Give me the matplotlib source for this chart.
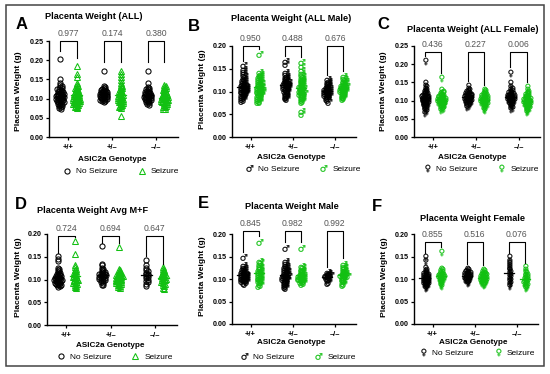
import numpy as np
import matplotlib
matplotlib.use("Agg")
import matplotlib.pyplot as plt
from matplotlib.lines import Line2D
from matplotlib.patches import Rectangle
from matplotlib.textpath import TextPath
from matplotlib.font_manager import FontProperties
from matplotlib.path import Path

plt.rcParams['font.family'] = ['Liberation Sans', 'DejaVu Sans']

# ---------------- data ----------------
genotypes = ['+/+', '+/–', '–/–']
legend_labels = ['No Seizure', 'Seizure']

# Panel A: Placenta Weight (ALL)
A_ns_pp = [0.203, 0.150, 0.141, 0.136, 0.133, 0.130, 0.128, 0.126, 0.125, 0.123, 0.121, 0.120, 0.118, 0.117, 0.116, 0.114, 0.113, 0.112, 0.111, 0.110, 0.109, 0.108, 0.107, 0.106, 0.106, 0.105, 0.104, 0.103, 0.102, 0.101, 0.100, 0.099, 0.098, 0.097, 0.096, 0.095, 0.094, 0.093, 0.091, 0.090, 0.089, 0.087, 0.086, 0.084, 0.082, 0.080, 0.078, 0.075, 0.072]
A_sz_pp = [0.186, 0.165, 0.156, 0.141, 0.135, 0.132, 0.130, 0.128, 0.126, 0.124, 0.122, 0.120, 0.118, 0.116, 0.115, 0.113, 0.112, 0.110, 0.109, 0.108, 0.106, 0.105, 0.104, 0.103, 0.102, 0.101, 0.100, 0.099, 0.098, 0.097, 0.096, 0.095, 0.094, 0.093, 0.092, 0.090, 0.089, 0.088, 0.086, 0.085, 0.083, 0.081, 0.079, 0.077, 0.075]
A_ns_pm = [0.172, 0.133, 0.130, 0.128, 0.126, 0.125, 0.123, 0.122, 0.121, 0.120, 0.119, 0.118, 0.117, 0.116, 0.115, 0.114, 0.113, 0.112, 0.111, 0.110, 0.109, 0.108, 0.107, 0.106, 0.105, 0.104, 0.103, 0.102, 0.101, 0.100, 0.099, 0.098, 0.097, 0.096, 0.094, 0.093, 0.091]
A_sz_pm = [0.172, 0.163, 0.155, 0.148, 0.141, 0.135, 0.132, 0.129, 0.127, 0.125, 0.123, 0.121, 0.119, 0.117, 0.115, 0.113, 0.111, 0.110, 0.108, 0.107, 0.105, 0.104, 0.102, 0.101, 0.100, 0.099, 0.097, 0.096, 0.094, 0.093, 0.091, 0.090, 0.088, 0.086, 0.084, 0.082, 0.080, 0.078, 0.076, 0.055]
A_ns_mm = [0.171, 0.141, 0.131, 0.128, 0.126, 0.124, 0.122, 0.120, 0.118, 0.117, 0.116, 0.114, 0.113, 0.112, 0.111, 0.110, 0.109, 0.108, 0.107, 0.106, 0.105, 0.104, 0.103, 0.102, 0.101, 0.100, 0.099, 0.098, 0.097, 0.096, 0.095, 0.093, 0.092, 0.090, 0.088, 0.086, 0.083]
A_sz_mm = [0.136, 0.133, 0.130, 0.128, 0.126, 0.124, 0.122, 0.120, 0.118, 0.116, 0.114, 0.112, 0.111, 0.109, 0.108, 0.106, 0.105, 0.104, 0.102, 0.101, 0.100, 0.099, 0.098, 0.097, 0.096, 0.095, 0.094, 0.093, 0.092, 0.091, 0.090, 0.088, 0.087, 0.085, 0.083, 0.081, 0.079, 0.077, 0.074, 0.072]
A_p = ['0.977', '0.174', '0.380']

# Panel B: Placenta Weight (ALL Male)
B_ns_pp = [0.158, 0.150, 0.145, 0.140, 0.136, 0.133, 0.130, 0.127, 0.125, 0.123, 0.121, 0.119, 0.117, 0.115, 0.114, 0.112, 0.111, 0.110, 0.109, 0.108, 0.107, 0.106, 0.105, 0.104, 0.103, 0.102, 0.101, 0.100, 0.099, 0.098, 0.097, 0.095, 0.094, 0.092, 0.090, 0.088, 0.086, 0.084, 0.082, 0.080]
B_sz_pp = [0.183, 0.142, 0.139, 0.136, 0.133, 0.131, 0.129, 0.127, 0.125, 0.123, 0.121, 0.119, 0.118, 0.116, 0.114, 0.113, 0.111, 0.110, 0.109, 0.107, 0.106, 0.105, 0.104, 0.103, 0.102, 0.101, 0.100, 0.099, 0.098, 0.096, 0.095, 0.093, 0.092, 0.090, 0.088, 0.086, 0.084, 0.082, 0.080, 0.078, 0.076]
B_ns_pm = [0.168, 0.160, 0.142, 0.138, 0.135, 0.132, 0.130, 0.128, 0.126, 0.124, 0.122, 0.121, 0.120, 0.118, 0.117, 0.116, 0.115, 0.114, 0.113, 0.112, 0.111, 0.110, 0.109, 0.108, 0.107, 0.105, 0.104, 0.102, 0.101, 0.099, 0.097, 0.095, 0.093, 0.091, 0.089, 0.087, 0.085, 0.083]
B_sz_pm = [0.165, 0.157, 0.148, 0.140, 0.136, 0.133, 0.130, 0.128, 0.126, 0.124, 0.122, 0.120, 0.118, 0.116, 0.114, 0.113, 0.111, 0.110, 0.108, 0.107, 0.105, 0.104, 0.102, 0.101, 0.099, 0.098, 0.097, 0.095, 0.094, 0.092, 0.090, 0.088, 0.086, 0.084, 0.082, 0.080, 0.078, 0.058, 0.050]
B_ns_mm = [0.127, 0.124, 0.121, 0.119, 0.117, 0.115, 0.113, 0.111, 0.110, 0.108, 0.107, 0.106, 0.105, 0.104, 0.103, 0.102, 0.101, 0.100, 0.099, 0.098, 0.097, 0.096, 0.095, 0.094, 0.093, 0.091, 0.090, 0.088, 0.086, 0.084, 0.081, 0.078]
B_sz_mm = [0.135, 0.130, 0.127, 0.124, 0.122, 0.120, 0.118, 0.116, 0.115, 0.113, 0.112, 0.111, 0.110, 0.109, 0.108, 0.107, 0.106, 0.105, 0.104, 0.103, 0.102, 0.101, 0.100, 0.099, 0.097, 0.095, 0.093, 0.091, 0.089, 0.087, 0.085, 0.083]
B_p = ['0.950', '0.488', '0.676']

# Panel C: Placenta Weight (ALL Female)
C_ns_pp = [0.209, 0.147, 0.141, 0.137, 0.133, 0.130, 0.127, 0.125, 0.123, 0.121, 0.119, 0.117, 0.115, 0.114, 0.112, 0.111, 0.110, 0.109, 0.108, 0.107, 0.106, 0.105, 0.104, 0.103, 0.102, 0.101, 0.100, 0.099, 0.098, 0.097, 0.096, 0.095, 0.094, 0.092, 0.091, 0.089, 0.087, 0.085, 0.083, 0.081, 0.078, 0.075, 0.071, 0.067]
C_sz_pp = [0.161, 0.128, 0.125, 0.122, 0.120, 0.118, 0.116, 0.114, 0.112, 0.111, 0.110, 0.108, 0.107, 0.106, 0.105, 0.104, 0.103, 0.102, 0.101, 0.100, 0.099, 0.098, 0.097, 0.096, 0.095, 0.094, 0.093, 0.092, 0.090, 0.089, 0.087, 0.085, 0.083, 0.081, 0.079, 0.076, 0.073]
C_ns_pm = [0.140, 0.131, 0.128, 0.126, 0.124, 0.122, 0.120, 0.119, 0.117, 0.116, 0.115, 0.114, 0.113, 0.112, 0.111, 0.110, 0.109, 0.108, 0.107, 0.106, 0.105, 0.104, 0.103, 0.102, 0.101, 0.100, 0.098, 0.097, 0.095, 0.093, 0.091, 0.089, 0.086, 0.083]
C_sz_pm = [0.129, 0.126, 0.123, 0.121, 0.119, 0.117, 0.115, 0.113, 0.112, 0.110, 0.109, 0.108, 0.107, 0.106, 0.105, 0.104, 0.103, 0.102, 0.101, 0.100, 0.099, 0.098, 0.097, 0.096, 0.094, 0.093, 0.091, 0.090, 0.088, 0.086, 0.084, 0.081, 0.078, 0.075]
C_ns_mm = [0.177, 0.147, 0.136, 0.132, 0.129, 0.126, 0.124, 0.122, 0.120, 0.118, 0.117, 0.115, 0.114, 0.113, 0.112, 0.111, 0.110, 0.109, 0.108, 0.107, 0.106, 0.105, 0.104, 0.103, 0.102, 0.100, 0.099, 0.097, 0.095, 0.093, 0.091, 0.089, 0.087, 0.084, 0.081, 0.078]
C_sz_mm = [0.138, 0.128, 0.125, 0.122, 0.119, 0.117, 0.115, 0.113, 0.111, 0.109, 0.108, 0.106, 0.105, 0.104, 0.102, 0.101, 0.100, 0.099, 0.098, 0.097, 0.096, 0.095, 0.094, 0.093, 0.092, 0.091, 0.090, 0.088, 0.087, 0.085, 0.083, 0.081, 0.079, 0.077, 0.074, 0.071, 0.068]
C_p = ['0.436', '0.227', '0.006']

# Panel D: Placenta Weight Avg M+F
D_ns_pp = [0.151, 0.146, 0.141, 0.125, 0.122, 0.120, 0.118, 0.116, 0.115, 0.113, 0.112, 0.110, 0.109, 0.108, 0.107, 0.106, 0.105, 0.104, 0.103, 0.102, 0.101, 0.100, 0.100, 0.099, 0.098, 0.097, 0.096, 0.095, 0.094, 0.093, 0.092, 0.091, 0.090, 0.089, 0.088, 0.087, 0.085, 0.083]
D_sz_pp = [0.185, 0.155, 0.131, 0.127, 0.124, 0.121, 0.118, 0.116, 0.114, 0.112, 0.110, 0.108, 0.106, 0.105, 0.103, 0.102, 0.100, 0.099, 0.098, 0.096, 0.095, 0.093, 0.092, 0.090, 0.088, 0.086, 0.084, 0.082]
D_ns_pm = [0.173, 0.135, 0.131, 0.126, 0.123, 0.121, 0.119, 0.117, 0.116, 0.114, 0.113, 0.112, 0.111, 0.110, 0.109, 0.108, 0.107, 0.106, 0.105, 0.104, 0.103, 0.102, 0.101, 0.100, 0.098, 0.096, 0.094, 0.092, 0.089, 0.087]
D_sz_pm = [0.172, 0.124, 0.121, 0.119, 0.117, 0.115, 0.114, 0.112, 0.111, 0.110, 0.109, 0.108, 0.107, 0.106, 0.105, 0.104, 0.103, 0.102, 0.101, 0.100, 0.099, 0.098, 0.097, 0.096, 0.095, 0.094, 0.093, 0.092, 0.091, 0.090, 0.088, 0.086, 0.084, 0.082]
D_ns_mm = [0.143, 0.131, 0.126, 0.121, 0.118, 0.115, 0.113, 0.111, 0.109, 0.107, 0.105, 0.103, 0.100, 0.097, 0.094, 0.090, 0.086]
D_sz_mm = [0.127, 0.123, 0.120, 0.118, 0.116, 0.114, 0.112, 0.111, 0.110, 0.108, 0.107, 0.105, 0.104, 0.102, 0.101, 0.100, 0.098, 0.097, 0.095, 0.093, 0.091, 0.088, 0.085, 0.082, 0.079]
D_p = ['0.724', '0.694', '0.647']

# Panel E: Placenta Weight Male
E_ns_pp = [0.148, 0.131, 0.127, 0.124, 0.122, 0.120, 0.118, 0.116, 0.115, 0.113, 0.112, 0.111, 0.110, 0.109, 0.108, 0.107, 0.106, 0.105, 0.104, 0.103, 0.102, 0.101, 0.100, 0.099, 0.098, 0.097, 0.096, 0.095, 0.094, 0.092, 0.090]
E_sz_pp = [0.183, 0.141, 0.138, 0.134, 0.130, 0.127, 0.124, 0.121, 0.119, 0.117, 0.115, 0.113, 0.111, 0.109, 0.107, 0.105, 0.103, 0.101, 0.099, 0.097, 0.095, 0.093, 0.090, 0.087, 0.085]
E_ns_pm = [0.170, 0.139, 0.135, 0.131, 0.128, 0.126, 0.124, 0.122, 0.120, 0.118, 0.117, 0.115, 0.114, 0.112, 0.111, 0.110, 0.108, 0.107, 0.106, 0.105, 0.104, 0.102, 0.101, 0.100, 0.098, 0.097, 0.095, 0.093, 0.091, 0.089, 0.087, 0.085, 0.083, 0.081]
E_sz_pm = [0.170, 0.129, 0.126, 0.123, 0.121, 0.119, 0.117, 0.115, 0.113, 0.112, 0.110, 0.109, 0.108, 0.107, 0.106, 0.105, 0.104, 0.103, 0.102, 0.101, 0.100, 0.099, 0.097, 0.096, 0.094, 0.093, 0.091, 0.089]
E_ns_mm = [0.115, 0.113, 0.111, 0.110, 0.109, 0.108, 0.107, 0.106, 0.104, 0.102, 0.100, 0.097, 0.094, 0.091]
E_sz_mm = [0.134, 0.130, 0.127, 0.124, 0.121, 0.119, 0.117, 0.115, 0.114, 0.112, 0.111, 0.110, 0.109, 0.108, 0.107, 0.106, 0.105, 0.103, 0.101, 0.099, 0.097, 0.095, 0.092, 0.089, 0.086]
E_p = ['0.845', '0.982', '0.992']

# Panel F: Placenta Weight Female
F_ns_pp = [0.148, 0.140, 0.124, 0.121, 0.118, 0.116, 0.114, 0.112, 0.111, 0.110, 0.108, 0.107, 0.106, 0.105, 0.104, 0.103, 0.102, 0.101, 0.100, 0.099, 0.098, 0.097, 0.096, 0.095, 0.094, 0.093, 0.092, 0.091, 0.090, 0.089, 0.088, 0.086, 0.084, 0.082, 0.080]
F_sz_pp = [0.161, 0.122, 0.119, 0.117, 0.115, 0.113, 0.111, 0.110, 0.109, 0.108, 0.107, 0.106, 0.105, 0.104, 0.103, 0.102, 0.101, 0.100, 0.098, 0.096, 0.094, 0.092, 0.090, 0.087, 0.084]
F_ns_pm = [0.123, 0.120, 0.118, 0.116, 0.115, 0.114, 0.113, 0.112, 0.111, 0.110, 0.109, 0.108, 0.107, 0.106, 0.105, 0.104, 0.103, 0.102, 0.101, 0.100, 0.099, 0.098, 0.097, 0.095, 0.093, 0.091]
F_sz_pm = [0.121, 0.118, 0.116, 0.114, 0.112, 0.111, 0.110, 0.109, 0.108, 0.107, 0.106, 0.105, 0.104, 0.103, 0.102, 0.101, 0.100, 0.099, 0.098, 0.097, 0.096, 0.095, 0.094, 0.093, 0.092, 0.090, 0.088, 0.086]
F_ns_mm = [0.148, 0.141, 0.136, 0.131, 0.127, 0.123, 0.119, 0.116, 0.113, 0.110, 0.107, 0.104, 0.101, 0.098, 0.095, 0.092, 0.089, 0.085]
F_sz_mm = [0.126, 0.120, 0.116, 0.113, 0.110, 0.108, 0.106, 0.104, 0.102, 0.100, 0.099, 0.097, 0.096, 0.094, 0.093, 0.091, 0.089, 0.087, 0.085, 0.082, 0.079]
F_p = ['0.855', '0.516', '0.076']

titles = ['Placenta Weight (ALL)', 'Placenta Weight (ALL Male)', 'Placenta Weight (ALL Female)',
          'Placenta Weight Avg M+F', 'Placenta Weight Male', 'Placenta Weight Female']
letters = ['A', 'B', 'C', 'D', 'E', 'F']
ymaxes = [0.25, 0.20, 0.25, 0.20, 0.20, 0.20]
symbols = ['shape', 'male', 'female', 'shape', 'male', 'female']

panels = [
    ([A_ns_pp, A_ns_pm, A_ns_mm], [A_sz_pp, A_sz_pm, A_sz_mm], A_p),
    ([B_ns_pp, B_ns_pm, B_ns_mm], [B_sz_pp, B_sz_pm, B_sz_mm], B_p),
    ([C_ns_pp, C_ns_pm, C_ns_mm], [C_sz_pp, C_sz_pm, C_sz_mm], C_p),
    ([D_ns_pp, D_ns_pm, D_ns_mm], [D_sz_pp, D_sz_pm, D_sz_mm], D_p),
    ([E_ns_pp, E_ns_pm, E_ns_mm], [E_sz_pp, E_sz_pm, E_sz_mm], E_p),
    ([F_ns_pp, F_ns_pm, F_ns_mm], [F_sz_pp, F_sz_pm, F_sz_mm], F_p),
]

# ---------------- layout / style ----------------
W, H = 550, 374
GREEN = '#12c012'
PAIR = 0.19
XLIM = (-0.44, 2.5)

# axes rectangles in pixels: left, right, top, bottom
rects_px = [(49, 178, 41, 137), (232, 356, 46, 137), (414, 540, 46, 137),
            (47, 177, 234, 325), (232, 356, 234, 324), (414, 538, 234, 324)]
bracket_top = [0.25, 0.20, 0.233, 0.196, 0.207, 0.182]
bracket_maxleg = [0.055, 1, 1, 1, 1, 1]
bracket_gap = [0.02, 0.01, 0.014, 0.008, 0.012, 0.010]
title_pos = [(0.35, 1.26), (0.48, 1.30), (0.47, 1.18), (0.35, 1.26), (0.48, 1.31), (0.47, 1.17)]
letter_pos = [(-0.21, 1.17), (-0.31, 1.21), (-0.24, 1.24), (-0.20, 1.32), (-0.23, 1.34), (-0.30, 1.31)]
ylabel_pos = [(-0.24, 0.48), (-0.24, 0.52), (-0.24, 0.50), (-0.22, 0.52), (-0.24, 0.53), (-0.24, 0.52)]
xlabel_pos = [(0.49, -0.23), (0.48, -0.22), (0.46, -0.22), (0.49, -0.23), (0.48, -0.20), (0.48, -0.20)]
legend_pos = [(0.56, -0.36), (0.57, -0.35), (0.53, -0.35), (0.52, -0.35), (0.53, -0.37), (0.51, -0.32)]


def glyph_path(ch):
    tp = TextPath((0, 0), ch, size=1, prop=FontProperties(family='DejaVu Sans'))
    v = tp.vertices.copy()
    mn, mx = v.min(0), v.max(0)
    v = v - (mn + mx) / 2
    return Path(v, tp.codes)


MALE = glyph_path('\u2642')
FEMALE = glyph_path('\u2640')


def marker_kw(kind, j):
    color = 'black' if j == 0 else GREEN
    if kind == 'shape':
        if j == 0:
            return dict(marker='o', ms=3.7, mfc='none', mec=color, mew=0.75)
        return dict(marker='^', ms=4.2, mfc='none', mec=color, mew=0.75)
    path = MALE if kind == 'male' else FEMALE
    return dict(marker=path, ms=5.4, mfc=color, mec=color, mew=0.15)


def swarm(vals, ypx, xpx, dmin=1.7, maxw=3.6):
    vals = np.asarray(vals, float)
    order = np.argsort(-vals)
    step = 0.4
    cands = [0.0]
    for k in range(1, int(maxw / step) + 1):
        cands += [k * step, -k * step]
    placed = []
    offs = np.zeros(len(vals))
    for i in order:
        y = vals[i] * ypx
        best, bestd, bestc = None, -1, 0.0
        for c in cands:
            d = min([np.hypot(c - px, y - py) for px, py in placed] or [99])
            if d >= dmin:
                best = c
                break
            if d > bestd:
                bestd, bestc = d, c
        if best is None:
            best = bestc
        placed.append((best, y))
        offs[i] = best / xpx
    return offs


fig = plt.figure(figsize=(W / 100, H / 100), dpi=100)
fig.patches.append(Rectangle((6 / W, 1 - 366 / H), 538 / W, 361 / H, transform=fig.transFigure,
                             fill=False, edgecolor='#444444', lw=1.1))

for pi, (ns, sz, pv) in enumerate(panels):
    l, r, t, b = rects_px[pi]
    ax = fig.add_axes([l / W, 1 - b / H, (r - l) / W, (b - t) / H])
    ymax = ymaxes[pi]
    ax.set_xlim(*XLIM)
    ax.set_ylim(0, ymax)
    ypx = (b - t) / ymax
    xpx = (r - l) / (XLIM[1] - XLIM[0])
    kind = symbols[pi]

    for g in range(3):
        for j, vals in enumerate([ns[g], sz[g]]):
            color = 'black' if j == 0 else GREEN
            xc = g + (-PAIR if j == 0 else PAIR)
            offs = swarm(vals, ypx, xpx)
            ax.plot(xc + offs, vals, ls='none', clip_on=False, zorder=3, **marker_kw(kind, j))
            m = np.mean(vals)
            ax.plot([xc - 0.12, xc + 0.12], [m, m], color=color, lw=0.9, zorder=4)
        T = bracket_top[pi]
        b1 = max(max(ns[g]) + bracket_gap[pi], T - bracket_maxleg[pi])
        b2 = max(max(sz[g]) + bracket_gap[pi], T - bracket_maxleg[pi])
        x1, x2 = g - PAIR, g + PAIR
        ax.plot([x1, x1, x2, x2], [b1, T, T, b2], color='black', lw=0.8, clip_on=False, zorder=5)
        ax.annotate(pv[g], (g, T), xytext=(0, 2.0), textcoords='offset points', ha='center',
                    va='bottom', fontsize=6.2, color='#555555', annotation_clip=False)

    ax.spines['top'].set_visible(False)
    ax.spines['right'].set_visible(False)
    for s in ('left', 'bottom'):
        ax.spines[s].set_linewidth(1.0)
    ax.set_yticks(np.arange(0, ymax + 1e-9, 0.05))
    ax.yaxis.set_major_formatter(matplotlib.ticker.FormatStrFormatter('%.2f'))
    ax.set_xticks(range(3))
    ax.set_xticklabels(genotypes)
    ax.tick_params(axis='both', length=2.5, width=0.9, pad=1.5, labelsize=5.1)
    ax.tick_params(axis='x', pad=2.5, labelsize=5.4)
    for lab in ax.get_xticklabels() + ax.get_yticklabels():
        lab.set_fontweight('bold')
    ax.patch.set_alpha(0)

    ax.text(*title_pos[pi], titles[pi], transform=ax.transAxes, ha='center', va='center',
            fontsize=6.6, fontweight='bold')
    ax.text(*letter_pos[pi], letters[pi], transform=ax.transAxes, ha='center', va='center',
            fontsize=12, fontweight='bold')
    ax.text(*ylabel_pos[pi], 'Placenta Weight (g)', transform=ax.transAxes, ha='center',
            va='center', rotation=90, fontsize=6.1, fontweight='bold')
    ax.text(*xlabel_pos[pi], 'ASIC2a Genotype', transform=ax.transAxes, ha='center',
            va='center', fontsize=5.9, fontweight='bold')

    handles = [Line2D([], [], ls='none', **marker_kw(kind, 0)),
               Line2D([], [], ls='none', **marker_kw(kind, 1))]
    ax.legend(handles, legend_labels, loc='center', bbox_to_anchor=legend_pos[pi], ncol=2,
              frameon=False, fontsize=6.0, handlelength=1.0, handletextpad=0.6,
              columnspacing=2.4, borderaxespad=0, borderpad=0)

fig.savefig('out.png', dpi=100)
